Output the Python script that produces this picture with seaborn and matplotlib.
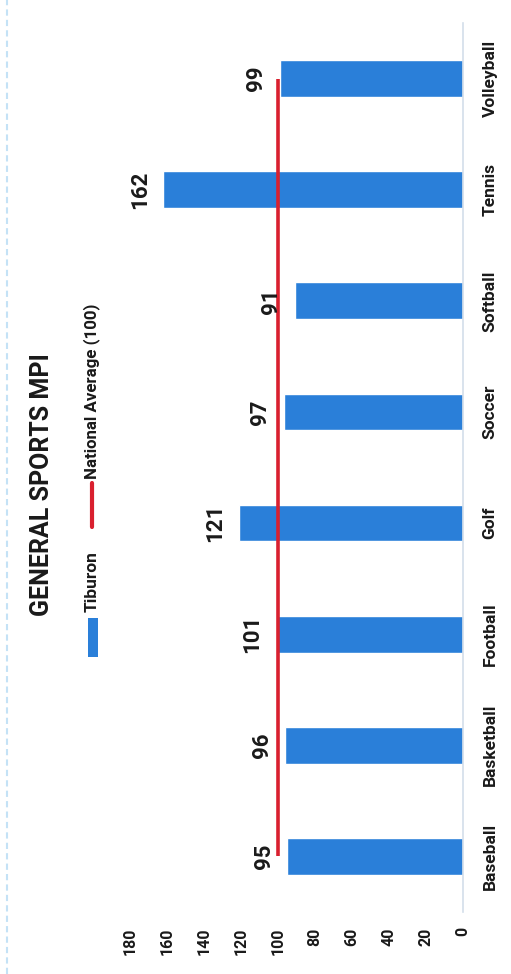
import numpy as np
import pandas as pd
import matplotlib
matplotlib.use("Agg")
import matplotlib.pyplot as plt
from matplotlib.patches import Rectangle
from matplotlib.lines import Line2D
import seaborn as sns

# Market potential index by sport
sports = ["Baseball", "Basketball", "Football", "Golf", "Soccer", "Softball", "Tennis", "Volleyball"]
tiburon = [95, 96, 101, 121, 97, 91, 162, 99]
national_avg = [100, 100, 100, 100, 100, 100, 100, 100]
value_ticks = [0, 20, 40, 60, 80, 100, 120, 140, 160, 180]

BLUE = "#2A7FD9"
RED = "#D9202F"
INK = "#1A1A1A"

sns.set_style("white")
plt.rcParams["font.family"] = ["Roboto", "DejaVu Sans"]

W, H = 511, 974
fig = plt.figure(figsize=(W / 100, H / 100), dpi=100)
fig.patch.set_facecolor("white")

def fx(px):
    return px / W

def fy(py):
    return 1 - py / H

# the whole chart is laid out sideways: values grow to the left, categories upward
ax = fig.add_axes([fx(130), fy(912), fx(463) - fx(130), fy(23) - fy(912)])

df = pd.DataFrame({"sport": sports, "mpi": tiburon})
order = sports[::-1]
sns.barplot(data=df, x="mpi", y="sport", order=order, orient="h",
            color=BLUE, saturation=1, width=0.33, ax=ax)

pos = [order.index(s) for s in sports]
ax.plot(national_avg, pos, color=RED, lw=2.6, solid_capstyle="butt", zorder=3)

for v, p in zip(tiburon, pos):
    ax.annotate(f"{v}", (v, p), xytext=(-17, 0), textcoords="offset points",
                rotation=90, ha="center", va="center", fontsize=16,
                fontweight="bold", color=INK)

ax.set_xlim(180, 0)
ax.set_ylim(len(order) - 0.5, -0.5)
ax.set_xticks(value_ticks)
ax.set_xticklabels([str(t) for t in value_ticks], rotation=90, fontsize=11.5,
                   fontweight="bold", color=INK)
ax.tick_params(axis="x", length=0, pad=11)
ax.yaxis.tick_right()
ax.set_yticks(range(len(order)))
ax.set_yticklabels(order, rotation=90, va="center", fontsize=12.5,
                   fontweight="bold", color=INK)
ax.tick_params(axis="y", length=0, pad=14)
ax.set_xlabel("")
ax.set_ylabel("")
for side in ["left", "top", "bottom"]:
    ax.spines[side].set_visible(False)
ax.spines["right"].set_color("#D3DEEA")
ax.spines["right"].set_linewidth(1.2)
ax.grid(False)

# title
fig.text(fx(42), fy(485), "GENERAL SPORTS MPI", rotation=90, ha="center",
         va="center", fontsize=18, fontweight="bold", color=INK)

# legend
fig.add_artist(Rectangle((fx(88), fy(657)), fx(98) - fx(88), fy(618) - fy(657),
                         transform=fig.transFigure, color=BLUE, lw=0))
fig.text(fx(92), fy(582), "Tiburon", rotation=90, ha="center", va="center",
         fontsize=12.5, fontweight="bold", color=INK)
fig.add_artist(Line2D([fx(92), fx(92)], [fy(527), fy(483)],
                      transform=fig.transFigure, color=RED, lw=3))
fig.text(fx(92), fy(391), "National Average (100)", rotation=90, ha="center",
         va="center", fontsize=12.2, fontweight="bold", color=INK)

# page border on the left
fig.add_artist(Line2D([fx(7), fx(7)], [0, 1], transform=fig.transFigure,
                      color="#C4E2F6", lw=1.5, ls=(0, (3, 2))))

fig.savefig("out.png", dpi=100)
